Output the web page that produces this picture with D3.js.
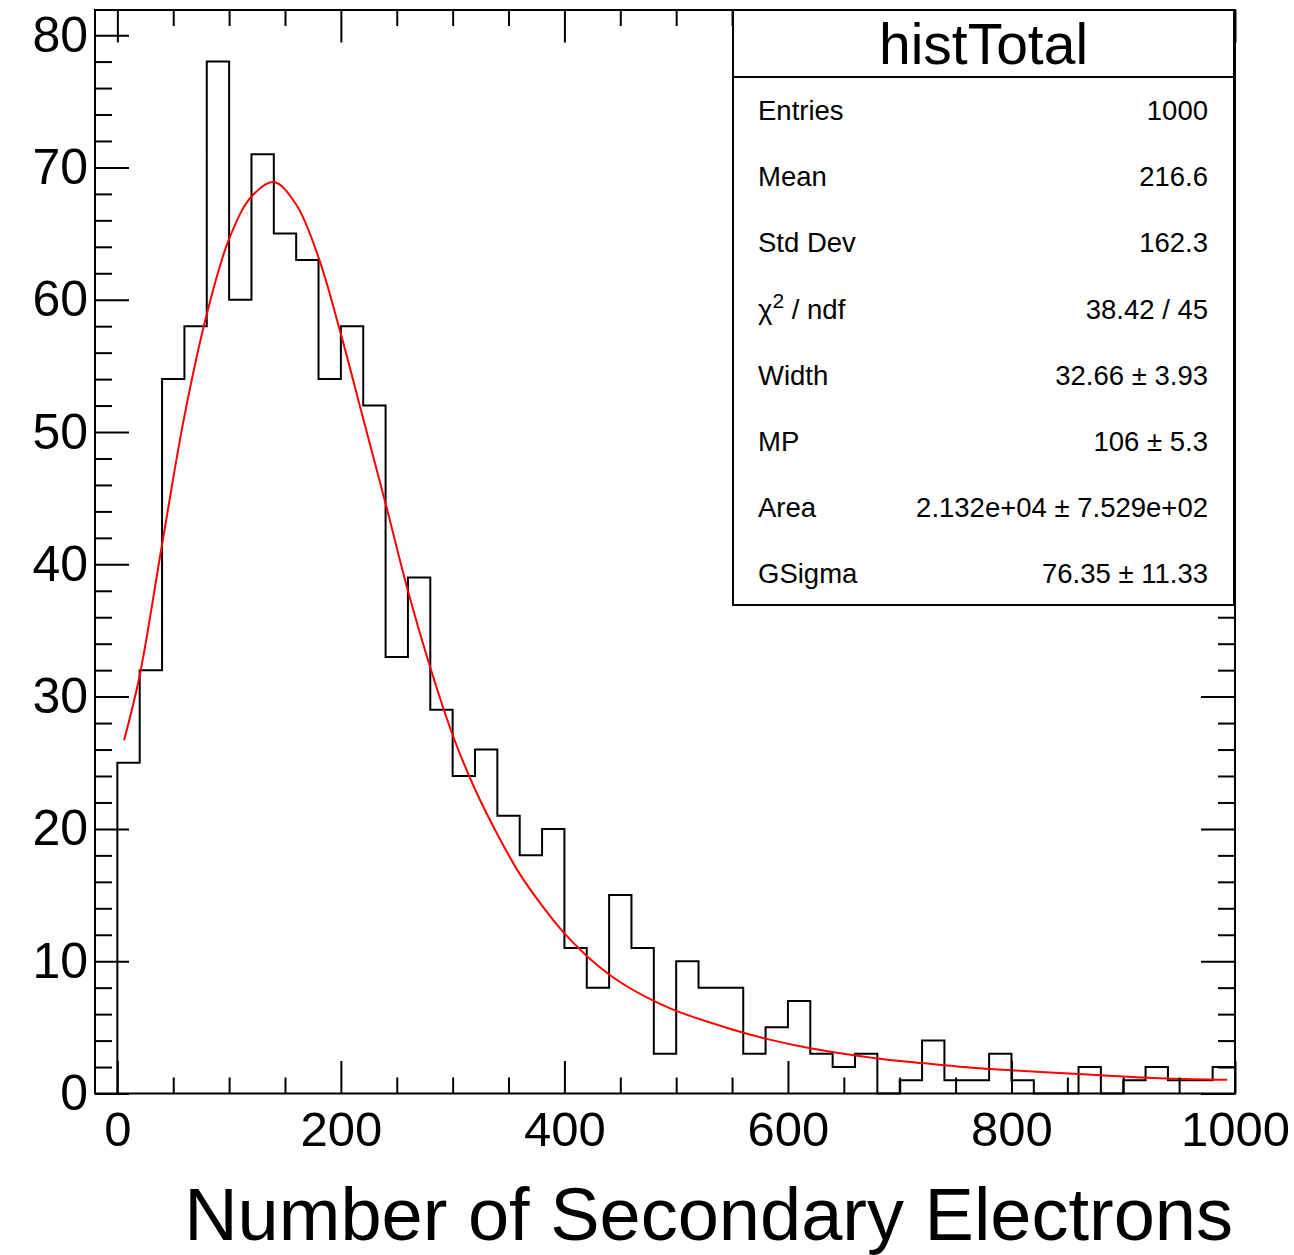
<!DOCTYPE html>
<html>
<head>
<meta charset="utf-8">
<script src="https://cdnjs.cloudflare.com/ajax/libs/d3/7.8.5/d3.min.js"></script>
<style>
  body { margin: 0; background: #fff; }
  svg { display: block; }
  text { font-family: "Liberation Sans", Arial, Helvetica, sans-serif; fill: #000; }
</style>
</head>
<body>
<svg class="chart" width="1294" height="1255"></svg>
<script>
// histogram bins: lower edges and contents (bin width 20)
var binLow = d3.range(0, 1000, 20);
var counts = [25, 32, 54, 58, 78, 60, 71, 65, 63, 54,
              58, 52, 33, 39, 29, 24, 26, 21, 18, 20,
              11, 8, 15, 11, 3, 10, 8, 8, 3, 5,
              7, 3, 2, 3, 0, 1, 4, 1, 1, 3,
              1, 0, 0, 2, 0, 1, 2, 1, 1, 2];
var binWidth = 20;

// fitted curve, points
var fitX = [6, 20, 40, 60, 80, 100, 120, 140, 160, 180, 200, 220, 240, 260, 280,
            300, 320, 340, 360, 380, 400, 420, 440, 460, 480, 500, 548, 580, 620,
            680, 720, 760, 800, 860, 900, 940, 993];
var fitY = [26.7, 31.6, 41.5, 51.2, 58.9, 64.6, 67.8, 68.9, 67.2, 63.2, 57.4, 51.0, 44.6, 38.0, 32.2,
            27.1, 23.0, 19.6, 16.6, 14.2, 12.1, 10.4, 9.0, 7.9, 7.0, 6.25, 4.9, 4.15, 3.42,
            2.65, 2.3, 1.98, 1.75, 1.48, 1.28, 1.13, 1.03];

// axis ticks
var xMajor = [0, 200, 400, 600, 800, 1000];
var xMinor = d3.range(50, 1000, 50).filter(function(d) { return d % 200 != 0; });
var yMajor = [0, 10, 20, 30, 40, 50, 60, 70, 80];
var yMinor = d3.range(2, 81, 2).filter(function(d) { return d % 10 != 0; });

// stats box
var statTitle = "histTotal";
var statNames = ["Entries", "Mean", "Std Dev", "chi2", "Width", "MP", "Area", "GSigma"];
var statValues = ["1000", "216.6", "162.3", "38.42 / 45", "32.66 \u00b1 3.93", "106 \u00b1 5.3",
                  "2.132e+04 \u00b1 7.529e+02", "76.35 \u00b1 11.33"];

var xTitle = "Number of Secondary Electrons";

var frame = { left: 95, right: 1235, top: 10, bottom: 1093.5 };

var x = d3.scaleLinear().domain([-20, 1000]).range([frame.left, frame.right]);
var y = d3.scaleLinear().domain([0, 81.9]).range([frame.bottom, frame.top]);

var svg = d3.select(".chart");

// clip for the drawing area
svg.append("clipPath").attr("id", "clip")
  .append("rect")
  .attr("x", frame.left).attr("y", frame.top)
  .attr("width", frame.right - frame.left).attr("height", frame.bottom - frame.top);

// histogram outline
var pts = [[binLow[0], 0]];
counts.forEach(function(c, i) {
  pts.push([binLow[i], c]);
  pts.push([binLow[i] + binWidth, c]);
});
pts.push([binLow[binLow.length - 1] + binWidth, 0]);

var histLine = d3.line()
  .x(function(d) { return x(d[0]); })
  .y(function(d) { return y(d[1]); });

svg.append("path")
  .datum(pts)
  .attr("d", histLine)
  .attr("fill", "none")
  .attr("stroke", "#000")
  .attr("stroke-width", 2);

// fit curve
var fitLine = d3.line()
  .x(function(d, i) { return x(fitX[i]); })
  .y(function(d, i) { return y(fitY[i]); })
  .curve(d3.curveCatmullRom.alpha(0.5));

svg.append("path")
  .datum(fitX)
  .attr("d", fitLine)
  .attr("clip-path", "url(#clip)")
  .attr("fill", "none")
  .attr("stroke", "#ff0000")
  .attr("stroke-width", 2);

// axes (ROOT style: ticks inside, on all four sides)
function styleAxis(g) {
  g.select(".domain").remove();
  g.selectAll("line").attr("stroke", "#000").attr("stroke-width", 2);
}

svg.append("g")
  .attr("transform", "translate(0," + frame.bottom + ")")
  .call(d3.axisBottom(x).tickValues(xMajor).tickSize(-32.5).tickPadding(18).tickFormat(d3.format("d")))
  .call(styleAxis)
  .selectAll("text").style("font-size", "49px").attr("fill", "#000");

svg.append("g")
  .attr("transform", "translate(0," + frame.bottom + ")")
  .call(d3.axisBottom(x).tickValues(xMinor).tickSize(-16).tickFormat(""))
  .call(styleAxis);

svg.append("g")
  .attr("transform", "translate(0," + frame.top + ")")
  .call(d3.axisTop(x).tickValues(xMajor).tickSize(-32.5).tickFormat(""))
  .call(styleAxis);

svg.append("g")
  .attr("transform", "translate(0," + frame.top + ")")
  .call(d3.axisTop(x).tickValues(xMinor).tickSize(-16).tickFormat(""))
  .call(styleAxis);

svg.append("g")
  .attr("transform", "translate(" + frame.left + ",0)")
  .call(d3.axisLeft(y).tickValues(yMajor).tickSize(-34).tickPadding(7).tickFormat(d3.format("d")))
  .call(styleAxis)
  .selectAll("text").style("font-size", "50px").attr("fill", "#000");

svg.append("g")
  .attr("transform", "translate(" + frame.left + ",0)")
  .call(d3.axisLeft(y).tickValues(yMinor).tickSize(-17).tickFormat(""))
  .call(styleAxis);

svg.append("g")
  .attr("transform", "translate(" + frame.right + ",0)")
  .call(d3.axisRight(y).tickValues(yMajor).tickSize(-34).tickFormat(""))
  .call(styleAxis);

svg.append("g")
  .attr("transform", "translate(" + frame.right + ",0)")
  .call(d3.axisRight(y).tickValues(yMinor).tickSize(-17).tickFormat(""))
  .call(styleAxis);

// frame
svg.append("rect")
  .attr("x", frame.left).attr("y", frame.top)
  .attr("width", frame.right - frame.left).attr("height", frame.bottom - frame.top)
  .attr("fill", "none").attr("stroke", "#000").attr("stroke-width", 2);

// x axis title
svg.append("text")
  .attr("x", 1233).attr("y", 1240)
  .attr("text-anchor", "end")
  .style("font-size", "74px")
  .text(xTitle);

// stats box
var box = { left: 733, right: 1234, top: 10, bottom: 605, sep: 77 };
var sb = svg.append("g");
sb.append("rect")
  .attr("x", box.left).attr("y", box.top)
  .attr("width", box.right - box.left).attr("height", box.bottom - box.top)
  .attr("fill", "#fff").attr("stroke", "#000").attr("stroke-width", 2);
sb.append("line")
  .attr("x1", box.left).attr("x2", box.right)
  .attr("y1", box.sep).attr("y2", box.sep)
  .attr("stroke", "#000").attr("stroke-width", 2);
sb.append("text")
  .attr("x", (box.left + box.right) / 2).attr("y", 64)
  .attr("text-anchor", "middle")
  .style("font-size", "57px")
  .text(statTitle);

statNames.forEach(function(name, i) {
  var by = 120 + i * 66.2;
  var t = sb.append("text").attr("x", 758).attr("y", by).style("font-size", "27.5px");
  if (name == "chi2") {
    t.append("tspan").text("\u03c7");
    t.append("tspan").attr("dy", -11).style("font-size", "21px").text("2");
    t.append("tspan").attr("dy", 11).text(" / ndf");
  } else {
    t.text(name);
  }
  sb.append("text")
    .attr("x", 1208).attr("y", by)
    .attr("text-anchor", "end")
    .style("font-size", "27.5px")
    .text(statValues[i]);
});
</script>
</body>
</html>
